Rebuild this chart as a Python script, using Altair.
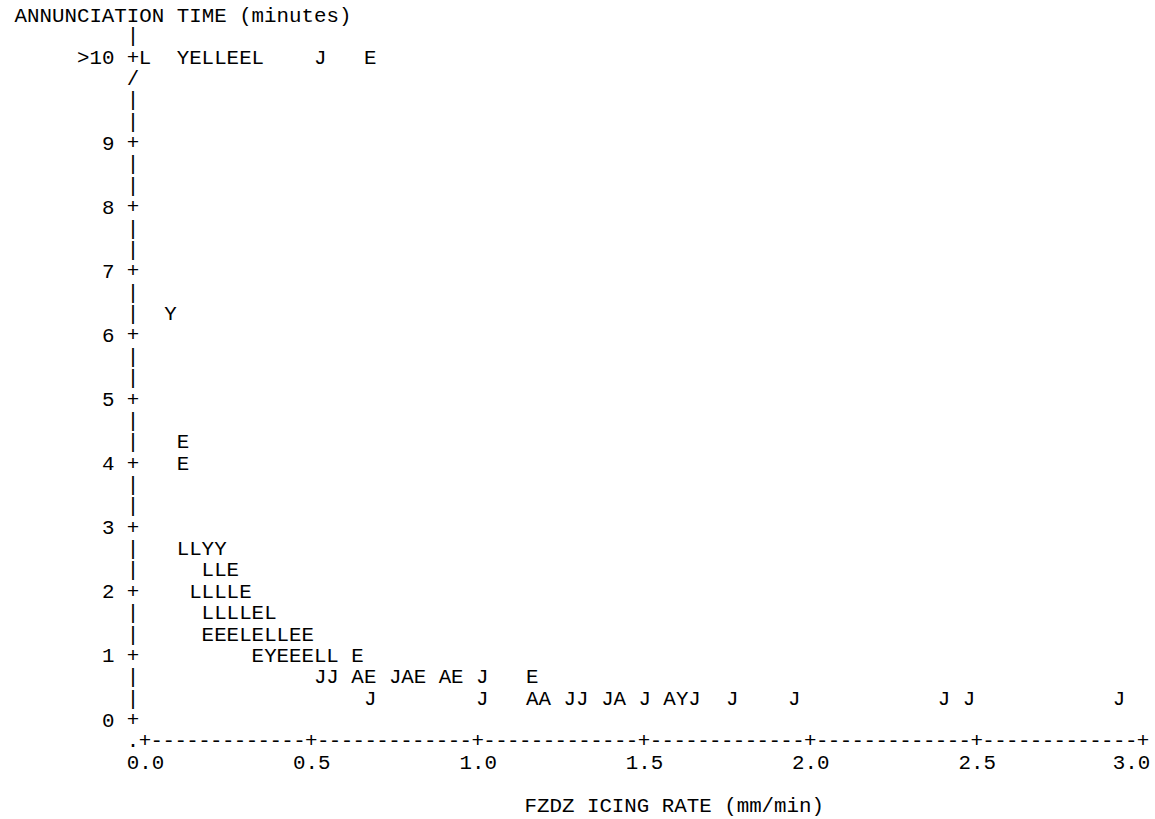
import altair as alt
import pandas as pd

FONT = "Liberation Mono"
SIZE = 20.8
INK = "#000000"

# Plot extents: the vertical axis column sits just left of rate 0,
# the horizontal axis row sits one third of a minute below 0.
X_MIN = -0.036
X_MAX = 3.0
Y_MIN = -0.333
TOP = 10.333  # row used for annunciation times above 10 minutes (">10")

# ---- observations: plotting symbol, FZDZ icing rate (mm/min), annunciation time (min)
sym_over10 = list("LYELLEELJE")
rate_over10 = [0.0, 0.114, 0.152, 0.189, 0.227, 0.264, 0.302, 0.339, 0.527, 0.677]

sym_6_33 = ["Y"]
rate_6_33 = [0.077]

sym_4_33 = ["E"]
rate_4_33 = [0.114]

sym_4_00 = ["E"]
rate_4_00 = [0.114]

sym_2_67 = list("LLYY")
rate_2_67 = [0.114, 0.152, 0.189, 0.227]

sym_2_33 = list("LLE")
rate_2_33 = [0.189, 0.227, 0.264]

sym_2_00 = list("LLLLE")
rate_2_00 = [0.152, 0.189, 0.227, 0.264, 0.302]

sym_1_67 = list("LLLLEL")
rate_1_67 = [0.189, 0.227, 0.264, 0.302, 0.339, 0.377]

sym_1_33 = list("EEELELLEE")
rate_1_33 = [0.189, 0.227, 0.264, 0.302, 0.339, 0.377, 0.414, 0.452, 0.489]

sym_1_00 = list("EYEEELLE")
rate_1_00 = [0.339, 0.377, 0.414, 0.452, 0.489, 0.527, 0.564, 0.639]

sym_0_67 = list("JJAEJAEAEJE")
rate_0_67 = [0.527, 0.564, 0.639, 0.677, 0.752, 0.789, 0.827, 0.902, 0.939, 1.014, 1.164]

sym_0_33 = list("JJAAJJJAJAYJJJJJJ")
rate_0_33 = [0.677, 1.014, 1.164, 1.202, 1.277, 1.314, 1.390, 1.427, 1.502,
             1.577, 1.615, 1.652, 1.765, 1.952, 2.402, 2.477, 2.928]

groups = [
    (TOP, sym_over10, rate_over10),
    (6.333, sym_6_33, rate_6_33),
    (4.333, sym_4_33, rate_4_33),
    (4.0, sym_4_00, rate_4_00),
    (2.667, sym_2_67, rate_2_67),
    (2.333, sym_2_33, rate_2_33),
    (2.0, sym_2_00, rate_2_00),
    (1.667, sym_1_67, rate_1_67),
    (1.333, sym_1_33, rate_1_33),
    (1.0, sym_1_00, rate_1_00),
    (0.667, sym_0_67, rate_0_67),
    (0.333, sym_0_33, rate_0_33),
]

points = pd.DataFrame(
    [{"glyph": s, "rate": r, "minutes": t}
     for t, syms, rates in groups for s, r in zip(syms, rates)]
)

# ---- line-printer style frame: '+' at ticks, '|' and '-' between them
x_ticks = [0.0, 0.5, 1.0, 1.5, 2.0, 2.5, 3.0]
y_ticks = [0, 1, 2, 3, 4, 5, 6, 7, 8, 9, TOP]
dashes_per_step = 13

frame = []
for t in y_ticks:
    frame.append({"glyph": "+", "rate": X_MIN, "minutes": t})
for k in range(10):
    frame.append({"glyph": "|", "rate": X_MIN, "minutes": k + 1 / 3})
    frame.append({"glyph": "|", "rate": X_MIN, "minutes": k + 2 / 3})
frame.append({"glyph": "/", "rate": X_MIN, "minutes": 10.0})
frame.append({"glyph": "|", "rate": X_MIN, "minutes": TOP + 1 / 3})
frame.append({"glyph": ".", "rate": X_MIN, "minutes": Y_MIN})
for x in x_ticks:
    frame.append({"glyph": "+", "rate": x, "minutes": Y_MIN})
for a, b in zip(x_ticks[:-1], x_ticks[1:]):
    step = (b - a) / (dashes_per_step + 1)
    for j in range(1, dashes_per_step + 1):
        frame.append({"glyph": "-", "rate": a + j * step, "minutes": Y_MIN})
frame = pd.DataFrame(frame)

x_scale = alt.Scale(domain=[X_MIN, X_MAX], nice=False, zero=False)
y_scale = alt.Scale(domain=[Y_MIN, TOP], nice=False, zero=False)

x_axis = alt.Axis(
    values=x_ticks, format=".1f", domain=False, ticks=False, tickSize=0, grid=False,
    labelFont=FONT, labelFontSize=SIZE, labelColor=INK, labelPadding=21.4,
    labelBaseline="middle", labelOverlap=False, labelFlush=False,
    labelOffset={"condition": {"test": "datum.value >= 3", "value": -12}, "value": 0},
    title="FZDZ ICING RATE (mm/min)", titleFont=FONT, titleFontSize=SIZE,
    titleFontWeight="normal", titleColor=INK, titleAlign="left",
    titleBaseline="middle", titleX=391, titleY=64.1,
)
y_axis = alt.Axis(
    values=y_ticks, format="d", labelExpr="datum.value > 10 ? '>10' : datum.label",
    domain=False, ticks=False, tickSize=0, grid=False,
    labelFont=FONT, labelFontSize=SIZE, labelColor=INK, labelPadding=19,
    labelOverlap=False, labelFlush=False,
    title="ANNUNCIATION TIME (minutes)", titleFont=FONT, titleFontSize=SIZE,
    titleFontWeight="normal", titleColor=INK, titleAngle=0, titleAlign="left",
    titleBaseline="middle", titleX=-119, titleY=-42.6,
)

enc = dict(
    x=alt.X("rate:Q", scale=x_scale, axis=x_axis),
    y=alt.Y("minutes:Q", scale=y_scale, axis=y_axis),
    text="glyph:N",
)
text_style = dict(font=FONT, fontSize=SIZE, color=INK, align="center", baseline="middle")

frame_layer = alt.Chart(frame).mark_text(**text_style).encode(**enc)
point_layer = alt.Chart(points).mark_text(**text_style).encode(**enc)

chart = (
    alt.layer(frame_layer, point_layer)
    .properties(
        width=1010,
        height=683.8,
        autosize=alt.AutoSizeParams(type="none"),
        padding={"left": 133, "top": 57.6, "right": 12, "bottom": 77.6},
        background="white",
    )
    .configure_view(stroke=None)
)

chart.save("out.html", embed_options={"renderer": "svg", "actions": False})
